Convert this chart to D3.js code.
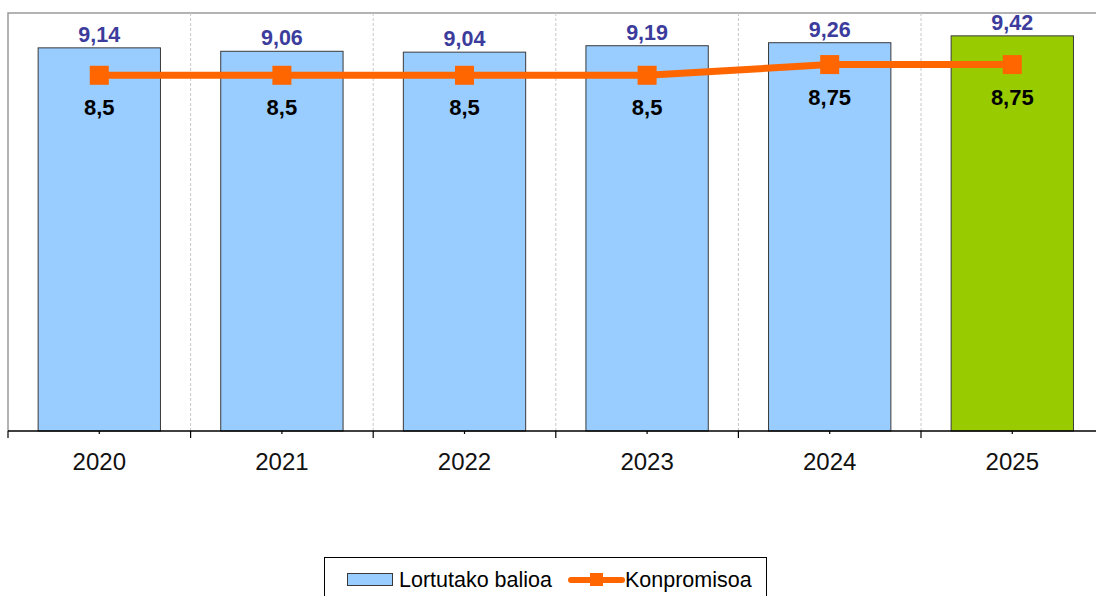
<!DOCTYPE html>
<html>
<head>
<meta charset="utf-8">
<script src="https://cdn.jsdelivr.net/npm/d3@7"></script>
<style>
  body { margin: 0; background: #fff; }
  svg { display: block; font-family: "Liberation Sans", Arial, sans-serif; }
</style>
</head>
<body>
<svg id="chart" width="1096" height="596"></svg>
<script>
// chart data
const years = ["2020", "2021", "2022", "2023", "2024", "2025"];
const achieved = [9.14, 9.06, 9.04, 9.19, 9.26, 9.42];
const target = [8.5, 8.5, 8.5, 8.5, 8.75, 8.75];
const legendLabels = ["Lortutako balioa", "Konpromisoa"];

const fmt = v => String(v).replace(".", ",");

let margin = {top: 13, left: 8},
    plotRight = 1103.6,
    baseline = 431;

const svg = d3.select("#chart");

const x = d3.scaleBand()
    .domain(years)
    .range([margin.left, plotRight])
    .paddingInner(0.33)
    .paddingOuter(0.165);

const y = d3.scaleLinear()
    .domain([0.2, 10])
    .range([baseline, 11]);

// plot area border (top + left, gray)
svg.append("path")
    .attr("d", `M${margin.left},${baseline} V${margin.top} H${plotRight}`)
    .attr("fill", "none")
    .attr("stroke", "#9a9a9a")
    .attr("stroke-width", 1.5);

// dashed vertical gridlines between categories
const step = x.step();
const bounds = years.map((d, i) => margin.left + step * (i + 1)).slice(0, -1);
svg.selectAll(".grid")
    .data(bounds)
    .enter()
    .append("line")
    .attr("class", "grid")
    .attr("x1", d => d).attr("x2", d => d)
    .attr("y1", margin.top).attr("y2", baseline)
    .attr("stroke", "#c8c8c8")
    .attr("stroke-dasharray", "3,2");

// bars
svg.selectAll(".bar")
    .data(years)
    .enter()
    .append("rect")
    .attr("class", "bar")
    .attr("x", d => x(d))
    .attr("width", x.bandwidth())
    .attr("y", (d, i) => y(achieved[i]))
    .attr("height", (d, i) => baseline - y(achieved[i]))
    .attr("fill", (d, i) => i === years.length - 1 ? "#99cc00" : "#99ccff")
    .attr("stroke", "#3a3a3a")
    .attr("stroke-width", 1);

// bar value labels
svg.selectAll(".barlabel")
    .data(years)
    .enter()
    .append("text")
    .attr("x", d => x(d) + x.bandwidth() / 2)
    .attr("y", (d, i) => y(achieved[i]) - 6)
    .attr("text-anchor", "middle")
    .attr("font-size", 21.5)
    .attr("font-weight", "bold")
    .attr("fill", "#3c3c9c")
    .text((d, i) => fmt(achieved[i]));

// x axis line and ticks
svg.append("line")
    .attr("x1", margin.left).attr("x2", 1096)
    .attr("y1", baseline).attr("y2", baseline)
    .attr("stroke", "#000")
    .attr("stroke-width", 1.5);

const tickBounds = years.map((d, i) => margin.left + step * i);
svg.selectAll(".majortick")
    .data(tickBounds)
    .enter()
    .append("line")
    .attr("x1", d => d).attr("x2", d => d)
    .attr("y1", baseline).attr("y2", baseline + 7)
    .attr("stroke", "#000")
    .attr("stroke-width", 1.2);

svg.selectAll(".minortick")
    .data(years)
    .enter()
    .append("line")
    .attr("x1", d => x(d) + x.bandwidth() / 2).attr("x2", d => x(d) + x.bandwidth() / 2)
    .attr("y1", baseline).attr("y2", baseline + 3)
    .attr("stroke", "#000")
    .attr("stroke-width", 1.2);

svg.selectAll(".yearlabel")
    .data(years)
    .enter()
    .append("text")
    .attr("x", d => x(d) + x.bandwidth() / 2)
    .attr("y", baseline + 39)
    .attr("text-anchor", "middle")
    .attr("font-size", 24)
    .attr("fill", "#111")
    .text(d => d);

// target line
const line = d3.line()
    .x((d, i) => x(years[i]) + x.bandwidth() / 2)
    .y(d => y(d));

svg.append("path")
    .datum(target)
    .attr("d", line)
    .attr("fill", "none")
    .attr("stroke", "#ff6600")
    .attr("stroke-width", 7);

svg.selectAll(".marker")
    .data(target)
    .enter()
    .append("rect")
    .attr("x", (d, i) => x(years[i]) + x.bandwidth() / 2 - 9.5)
    .attr("y", d => y(d) - 9.5)
    .attr("width", 19)
    .attr("height", 19)
    .attr("fill", "#ff6600");

svg.selectAll(".linelabel")
    .data(target)
    .enter()
    .append("text")
    .attr("x", (d, i) => x(years[i]) + x.bandwidth() / 2)
    .attr("y", d => y(d) + 40)
    .attr("text-anchor", "middle")
    .attr("font-size", 22)
    .attr("font-weight", "bold")
    .attr("fill", "#000")
    .text(d => fmt(d));

// legend
const legend = svg.append("g");
legend.append("rect")
    .attr("x", 324.5).attr("y", 557.5)
    .attr("width", 442).attr("height", 50)
    .attr("fill", "#fff")
    .attr("stroke", "#000")
    .attr("stroke-width", 1);

legend.append("rect")
    .attr("x", 347.5).attr("y", 573.5)
    .attr("width", 45).attr("height", 12)
    .attr("fill", "#99ccff")
    .attr("stroke", "#3a3a3a");

legend.append("text")
    .attr("x", 399).attr("y", 587)
    .attr("font-size", 21.5)
    .attr("fill", "#000")
    .text(legendLabels[0]);

legend.append("line")
    .attr("x1", 571).attr("x2", 622)
    .attr("y1", 580).attr("y2", 580)
    .attr("stroke", "#ff6600")
    .attr("stroke-width", 6)
    .attr("stroke-linecap", "round");

legend.append("rect")
    .attr("x", 590).attr("y", 573)
    .attr("width", 13).attr("height", 13)
    .attr("fill", "#ff6600");

legend.append("text")
    .attr("x", 625).attr("y", 587)
    .attr("font-size", 21.5)
    .attr("fill", "#000")
    .text(legendLabels[1]);
</script>
</body>
</html>
